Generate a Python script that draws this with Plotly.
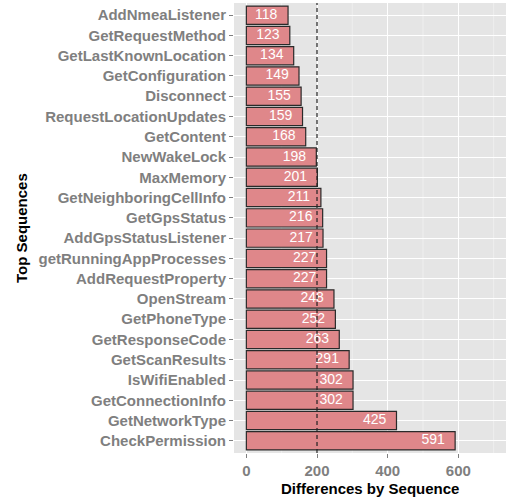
import plotly.graph_objects as go

categories = ["AddNmeaListener", "GetRequestMethod", "GetLastKnownLocation", "GetConfiguration",
              "Disconnect", "RequestLocationUpdates", "GetContent", "NewWakeLock", "MaxMemory",
              "GetNeighboringCellInfo", "GetGpsStatus", "AddGpsStatusListener",
              "getRunningAppProcesses", "AddRequestProperty", "OpenStream", "GetPhoneType",
              "GetResponseCode", "GetScanResults", "IsWifiEnabled", "GetConnectionInfo",
              "GetNetworkType", "CheckPermission"]
values = [118, 123, 134, 149, 155, 159, 168, 198, 201, 211, 216, 217, 227, 227, 248, 252,
          263, 291, 302, 302, 425, 591]
threshold = 200
label_offset = 62
x_ticks = [0, 200, 400, 600]
minor_ticks = [100, 300, 500, 700]

FAM = "Liberation Sans, Arial, sans-serif"
W, H = 507, 499
L, R, T, B = 234, 1, 3, 46

fig = go.Figure()
fig.add_trace(go.Bar(
    y=categories, x=values, orientation="h", width=0.9,
    marker=dict(color="#DF878A", line=dict(color="#2a2a2a", width=1.2)),
    hoverinfo="skip", showlegend=False,
))
fig.add_shape(type="line", xref="x", yref="paper", x0=threshold, x1=threshold, y0=0, y1=1,
              line=dict(color="#222222", width=1.2, dash="4px,3px"), layer="above")
fig.add_trace(go.Scatter(
    y=categories, x=[v - label_offset for v in values], mode="text",
    text=[str(v) for v in values],
    textfont=dict(family=FAM, size=14, color="white"),
    textposition="middle center", showlegend=False, hoverinfo="skip",
))

for m in minor_ticks:
    fig.add_shape(type="line", xref="x", yref="paper", x0=m, x1=m, y0=0, y1=1,
                  line=dict(color="#F2F2F2", width=0.7), layer="below")

font_bold = dict(family=FAM, size=15, color="#7F7F7F", weight="bold")
title_font = dict(family=FAM, size=15, color="black", weight="bold")

ph = H - T - B
fig.add_annotation(text="Differences by Sequence", xref="paper", yref="paper",
                   x=0.5, y=-(488 - (H - B)) / ph, showarrow=False, font=title_font,
                   xanchor="center", yanchor="middle")
fig.add_annotation(text="Top Sequences", xref="paper", yref="paper",
                   x=-(L - 21) / (W - L - R), y=1 - (228 - T) / ph, showarrow=False,
                   font=title_font, textangle=-90, xanchor="center", yanchor="middle")

fig.update_layout(
    width=W, height=H,
    margin=dict(l=L, r=R, t=T, b=B, autoexpand=False),
    paper_bgcolor="white", plot_bgcolor="#E5E5E5",
    xaxis=dict(
        range=[-35, 735], tickvals=x_ticks, ticktext=[str(t) for t in x_ticks],
        showgrid=True, gridcolor="white", gridwidth=1.3, zeroline=False, automargin=False,
        ticks="outside", ticklen=4, tickcolor="#7F7F7F", tickfont=font_bold,
    ),
    yaxis=dict(
        categoryorder="array", categoryarray=categories[::-1],
        range=[-0.6, len(categories) - 0.4], automargin=False,
        showgrid=True, gridcolor="white", gridwidth=1.3, zeroline=False,
        ticks="outside", ticklen=4, tickcolor="#7F7F7F", tickfont=font_bold,
    ),
)

fig.write_html("out.html", config={"displayModeBar": False},
               post_script="document.body.style.margin='0';document.body.style.overflow='hidden';")
